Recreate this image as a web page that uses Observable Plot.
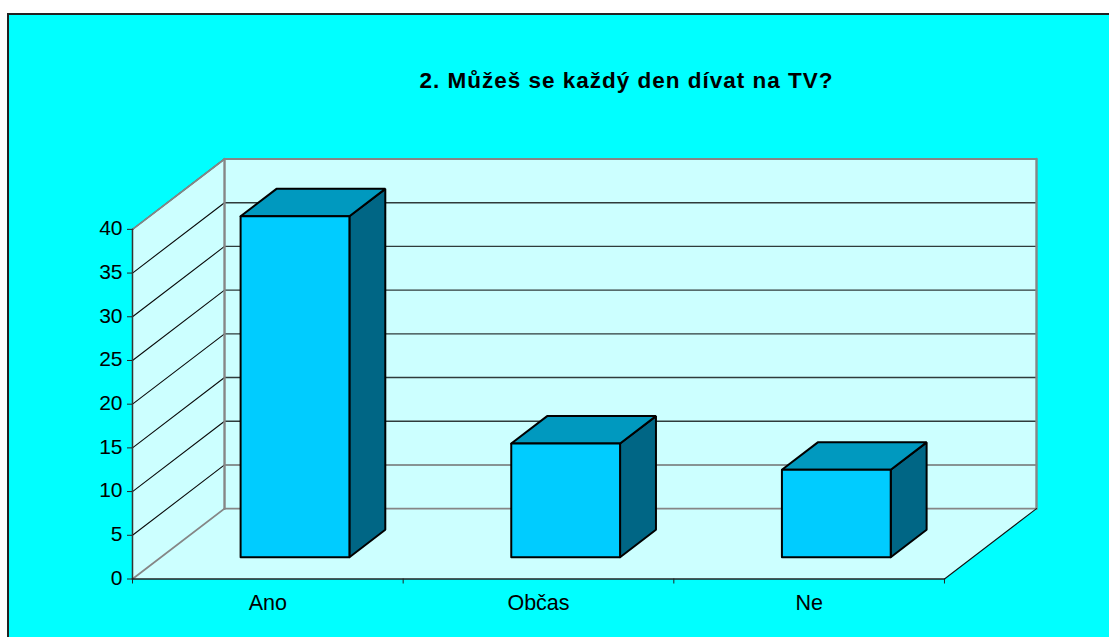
<!DOCTYPE html>
<html lang="cs">
<head>
<meta charset="utf-8">
<script src="https://cdn.jsdelivr.net/npm/d3@7"></script>
<script src="https://cdn.jsdelivr.net/npm/@observablehq/plot@0.6"></script>
<style>
html,body{margin:0;padding:0;background:#fff;overflow:hidden;width:1109px;height:637px}
#frame{position:absolute;left:7px;top:13px;width:1104px;height:626px;box-sizing:border-box;background:#00ffff;border:2px solid #222}
#title{position:absolute;left:0;top:68px;width:1253px;text-align:center;font:bold 22.5px "Liberation Sans",Arial,sans-serif;color:#000;letter-spacing:1px}
#chart{position:absolute;left:0;top:0}
#chart svg{background:transparent;display:block}
</style>
</head>
<body>
<div id="frame"></div>
<div id="title">2. Můžeš se každý den dívat na TV?</div>
<div id="chart"></div>
<script>
const categories = ["Ano", "Občas", "Ne"];
const values = [39, 13, 10];
const yTicks = [0, 5, 10, 15, 20, 25, 30, 35, 40];
const xTicks = [0, 1, 2, 3];

// Oblique projection of (category, value, depth) onto the plane of the two scales.
const depthX = 0.34, depthY = 8.05;
const barStart = 0.31, barEnd = 0.70, barLeft = 0.294, barRight = 0.696;
const P = (x, v, d, id) => ({px: x + d * depthX, py: v + d * depthY, id});

function poly(id, pts) { return [...pts, pts[0]].map(([x, v, d]) => P(x, v, d, id)); }
function seg(id, a, b) { return [P(...a, id), P(...b, id)]; }

const xMax = categories.length, yMax = yTicks[yTicks.length - 1];
const wallBack = poly("back", [[0,0,1],[xMax,0,1],[xMax,yMax,1],[0,yMax,1]]);
const wallSide = poly("side", [[0,0,0],[0,0,1],[0,yMax,1],[0,yMax,0]]);
const floor = poly("floor", [[0,0,0],[xMax,0,0],[xMax,0,1],[0,0,1]]);

const sideLines = levels => levels.flatMap(v => seg("s" + v, [0, v, 0], [0, v, 1]));
const backLines = levels => levels.flatMap(v => seg("b" + v, [0, v, 1], [xMax, v, 1]));

const bars = categories.map((c, i) => {
  const a = i + barLeft, b = i + barRight, v = values[i];
  return {
    front: poly(c + "f", [[a,0,barStart],[b,0,barStart],[b,v,barStart],[a,v,barStart]]),
    top: poly(c + "t", [[a,v,barStart],[b,v,barStart],[b,v,barEnd],[a,v,barEnd]]),
    side: poly(c + "s", [[b,0,barStart],[b,0,barEnd],[b,v,barEnd],[b,v,barStart]])
  };
});

const pl = (data, o) => Plot.line(data, {x: "px", y: "py", z: "id", curve: "linear", strokeLinejoin: "miter", ...o});
const wallFill = "#ccffff", gray = "#868686";

const chart = Plot.plot({
  width: 1109, height: 637,
  marginLeft: 132, marginRight: 73, marginTop: 158.5, marginBottom: 58.5,
  x: {type: "linear", domain: [0, xMax + depthX]},
  y: {type: "linear", domain: [0, yMax + depthY]},
  style: {background: "transparent", fontFamily: "'Liberation Sans',Arial,sans-serif", fontSize: "21px", color: "#000"},
  marks: [
    pl(wallBack, {fill: wallFill, stroke: "none"}),
    pl(wallSide, {fill: wallFill, stroke: "none"}),
    pl(floor, {fill: wallFill, stroke: "none"}),
    pl(sideLines([40, 35, 30, 25, 20, 15, 10, 5]), {stroke: "#0a0a0a", strokeWidth: 1.1}),
    pl(backLines([40]), {stroke: "#000", strokeWidth: 1.1}),
    pl(backLines([35, 30, 25, 20, 15, 10]), {stroke: "#2f3b3b", strokeWidth: 1.35}),
    pl(backLines([5]), {stroke: "#707070", strokeWidth: 1.6}),
    pl(seg("fl", [0,0,1], [xMax,0,1]), {stroke: gray, strokeWidth: 1.8}),
    pl(seg("wl", [0,0,1], [0,yMax,1]), {stroke: gray, strokeWidth: 2.4}),
    pl(seg("wr", [xMax,0,1], [xMax,yMax,1]), {stroke: gray, strokeWidth: 2.4}),
    pl(seg("wt", [0,yMax,1], [xMax,yMax,1]), {stroke: gray, strokeWidth: 1.8}),
    pl(seg("dt", [0,yMax,0], [0,yMax,1]), {stroke: gray, strokeWidth: 1.8}),
    pl(seg("df", [0,0,0], [0,0,1]), {stroke: gray, strokeWidth: 1.8}),
    pl(seg("dr", [xMax,0,0], [xMax,0,1]), {stroke: "#111", strokeWidth: 1.1}),
    ...bars.flatMap(b => [
      pl(b.side, {fill: "#006685", stroke: "#000", strokeWidth: 2}),
      pl(b.top, {fill: "#0099bf", stroke: "#000", strokeWidth: 2}),
      pl(b.front, {fill: "#00ccff", stroke: "#000", strokeWidth: 2})
    ]),
    pl(seg("ax", [0,0,0], [0,yMax,0]), {stroke: "#333", strokeWidth: 1.5}),
    pl(seg("ay", [0,0,0], [xMax,0,0]), {stroke: "#222", strokeWidth: 1.5}),
    Plot.axisY(yTicks, {anchor: "left", label: null, tickSize: 5, tickFormat: () => "", stroke: "#222", strokeWidth: 1}),
    Plot.axisY(yTicks, {anchor: "left", label: null, tickSize: 0, tickPadding: 10, dy: -1, fill: "#000", fontSize: 21}),
    Plot.axisX(xTicks, {anchor: "bottom", label: null, tickSize: 5, tickFormat: () => "", stroke: "#222", strokeWidth: 1}),
    Plot.text(categories, {x: (d, i) => i + 0.5, y: 0, dy: 24, text: d => d, fill: "#000", fontSize: 21.5, lineAnchor: "middle"})
  ]
});
document.getElementById("chart").appendChild(chart);
</script>
</body>
</html>
